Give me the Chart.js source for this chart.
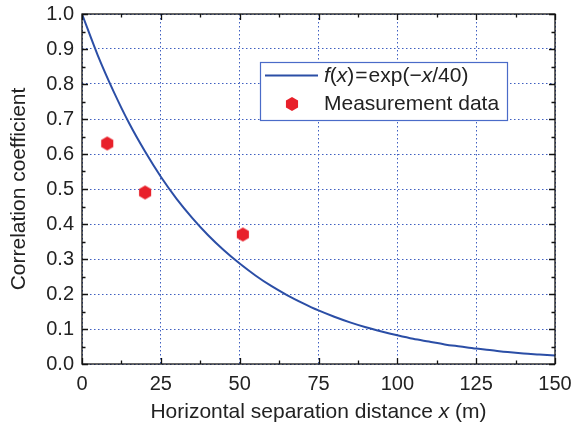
<!DOCTYPE html>
<html><head><meta charset="utf-8">
<script src="https://cdn.jsdelivr.net/npm/chart.js@4"></script>
<style>html,body{margin:0;padding:0;background:#fff}#w{width:574px;height:428px}</style>
</head><body><div id="w"><canvas id="c" width="574" height="428"></canvas></div>
<script>
const curveX = [0,5,10,15,20,25,30,35,40,45,50,55,60,65,70,75,80,85,90,95,100,105,110,115,120,125,130,135,140,145,150];
const curveY = [1,0.882,0.779,0.687,0.607,0.535,0.472,0.417,0.368,0.325,0.287,0.253,0.223,0.197,0.174,0.153,0.135,0.119,0.105,0.093,0.082,0.072,0.064,0.056,0.050,0.044,0.039,0.034,0.030,0.027,0.024];
const measX = [8, 20, 51];
const measY = [0.63, 0.49, 0.37];
const xTicks = [0,25,50,75,100,125,150];
const yTicks = [0,0.1,0.2,0.3,0.4,0.5,0.6,0.7,0.8,0.9,1.0];
const xMinor = [12.5,37.5,62.5,87.5,112.5,137.5];
const yMinor = [0.05,0.15,0.25,0.35,0.45,0.55,0.65,0.75,0.85,0.95];

const FONT = '"Liberation Sans", Arial, sans-serif';
const TXT = '#222';
const LINEC = '#2b4ea6';
const REDC = '#e8202a';
const GRIDC = '#3f5fc0';
const TS = 20, LS = 21;

function hexImg(r, color){
  const c = document.createElement('canvas');
  c.width = c.height = 2*r+2;
  const g = c.getContext('2d');
  g.fillStyle = color;
  g.beginPath();
  for(let i=0;i<6;i++){
    const a = Math.PI/2 + i*Math.PI/3;
    const px = r+1 + r*Math.cos(a), py = r+1 + r*Math.sin(a);
    if(i===0) g.moveTo(px,py); else g.lineTo(px,py);
  }
  g.closePath(); g.fill();
  return c;
}
const hex = hexImg(7, REDC);

const frame = {
  id:'frame',
  afterDatasetsDraw(chart){
    const {ctx, chartArea:a, scales:{x,y}} = chart;
    ctx.save();
    ctx.strokeStyle = '#111'; ctx.lineWidth = 1.3;
    ctx.strokeRect(a.left, a.top, a.right-a.left, a.bottom-a.top);
    ctx.beginPath();
    const tick = (vals, len) => {
      vals.forEach(v=>{
        const px = Math.round(x.getPixelForValue(v))+0.5;
        ctx.moveTo(px,a.bottom); ctx.lineTo(px,a.bottom-len);
        ctx.moveTo(px,a.top); ctx.lineTo(px,a.top+len);
      });
    };
    const tickY = (vals, len) => {
      vals.forEach(v=>{
        const py = Math.round(y.getPixelForValue(v))+0.5;
        ctx.moveTo(a.left,py); ctx.lineTo(a.left+len,py);
        ctx.moveTo(a.right,py); ctx.lineTo(a.right-len,py);
      });
    };
    tick(xTicks,6); tick(xMinor,3.5); tickY(yTicks,6); tickY(yMinor,3.5);
    ctx.stroke();

    // legend box
    const L=260, T=62, R=507, B=120;
    ctx.fillStyle='#fff'; ctx.fillRect(L,T,R-L,B-T);
    ctx.strokeStyle='#4a6bc8'; ctx.lineWidth=1.2;
    ctx.strokeRect(L+0.5,T+0.5,R-L,B-T);
    ctx.strokeStyle=LINEC; ctx.lineWidth=2;
    ctx.beginPath(); ctx.moveTo(265,75.5); ctx.lineTo(318,75.5); ctx.stroke();
    ctx.drawImage(hex, 292-hex.width/2, 104-hex.height/2);
    ctx.fillStyle=TXT; ctx.textBaseline='middle'; ctx.textAlign='left';
    const parts = [['f','italic '],['(',''],['x','italic '],[')',''],['=','',1],['exp(\u2212',''],['x','italic '],['/40)','']];
    let cx = 324;
    parts.forEach(([t,s,pad])=>{
      ctx.font = s+LS+'px '+FONT;
      if(pad) cx += 1;
      ctx.fillText(t,cx,76);
      cx += ctx.measureText(t).width + (pad?1:0);
    });
    ctx.font=LS+'px '+FONT;
    ctx.fillText('Measurement data',324,104);

    // x title with italic x
    const xt = [['Horizontal separation distance ',''],['x','italic '],[' (m)','']];
    let w=0;
    xt.forEach(([t,s])=>{ctx.font=s+LS+'px '+FONT; w+=ctx.measureText(t).width;});
    let sx = (a.left+a.right)/2 - w/2;
    xt.forEach(([t,s])=>{ctx.font=s+LS+'px '+FONT; ctx.fillText(t,sx,412); sx+=ctx.measureText(t).width;});
    ctx.restore();
  }
};

new Chart(document.getElementById('c'), {
  type:'scatter',
  data:{datasets:[
    {label:'f(x) = exp(\u2212x/40)', data:curveX.map((v,i)=>({x:v,y:curveY[i]})), showLine:true,
     borderColor:LINEC, borderWidth:2, pointRadius:0, cubicInterpolationMode:'monotone', fill:false},
    {label:'Measurement data', data:measX.map((v,i)=>({x:v,y:measY[i]})), pointStyle:hex,
     pointRadius:7, backgroundColor:REDC, borderColor:REDC}
  ]},
  options:{
    responsive:false, animation:false, devicePixelRatio:1,
    layout:{padding:{left:0,right:19,top:14,bottom:0}},
    plugins:{legend:{display:false}, tooltip:{enabled:false}},
    scales:{
      x:{type:'linear', min:0, max:150,
        afterBuildTicks:s=>{s.ticks = xTicks.map(v=>({value:v}));},
        afterFit:s=>{s.height=64; s.paddingLeft=0; s.paddingRight=0;},
        grid:{color:GRIDC, lineWidth:1, drawTicks:false},
        border:{display:false, dash:[1.5,2.5]},
        ticks:{padding:8, color:TXT, font:{family:FONT,size:TS}, maxRotation:0, autoSkip:false}
      },
      y:{type:'linear', min:0, max:1,
        afterBuildTicks:s=>{s.ticks = yTicks.map(v=>({value:v}));},
        afterFit:s=>{s.width=82; s.paddingTop=0; s.paddingBottom=0;},
        grid:{color:GRIDC, lineWidth:1, drawTicks:false},
        border:{display:false, dash:[1.5,2.5]},
        ticks:{padding:8, color:TXT, font:{family:FONT,size:TS}, callback:v=>v.toFixed(1), autoSkip:false},
        title:{display:true, text:'Correlation coefficient', color:TXT, font:{family:FONT,size:LS}, padding:{top:7,bottom:4}}
      }
    }
  },
  plugins:[frame]
});
</script></body></html>
